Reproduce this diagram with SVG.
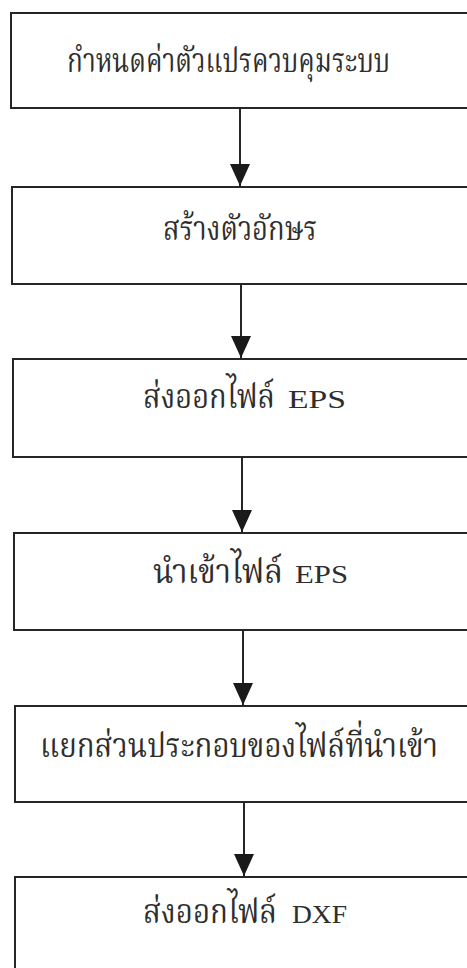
<svg xmlns="http://www.w3.org/2000/svg" width="467" height="968" viewBox="0 0 467 968">
<defs>
<style>
.box{fill:#fff;stroke:#262626;stroke-width:2}
.lbl{font-family:"Liberation Serif","Noto Serif Thai","Noto Sans Thai",serif;font-size:30px;fill:#2e2e2e}
.lat{font-family:"Liberation Serif",serif;font-size:25px;fill:#2e2e2e}
.edge{stroke:#262626;stroke-width:2;fill:none}
</style>
<marker id="ah" markerUnits="userSpaceOnUse" markerWidth="22" markerHeight="20" refX="22" refY="10" orient="auto" viewBox="0 0 22 20">
<path d="M0,0 L22,10 L0,20 Z" fill="#1a1a1a"/>
</marker>
</defs>
<rect width="467" height="968" fill="#fff"/>
<g id="connectors">
<line class="edge" x1="240" y1="108" x2="240" y2="186" marker-end="url(#ah)"/>
<line class="edge" x1="241" y1="284" x2="241" y2="358" marker-end="url(#ah)"/>
<line class="edge" x1="242" y1="457" x2="242" y2="532" marker-end="url(#ah)"/>
<line class="edge" x1="243" y1="630" x2="243" y2="705" marker-end="url(#ah)"/>
<line class="edge" x1="244" y1="802" x2="244" y2="876" marker-end="url(#ah)"/>
</g>
<g id="n1"><rect class="box" x="11" y="13" width="470" height="95"/><text class="lbl" transform="translate(67,72) scale(1,1.15)" textLength="323" lengthAdjust="spacingAndGlyphs">กำหนดค่าตัวแปรควบคุมระบบ</text></g>
<g id="n2"><rect class="box" x="12" y="187" width="470" height="97"/><text class="lbl" transform="translate(163,240) scale(1,1.15)" textLength="154" lengthAdjust="spacingAndGlyphs">สร้างตัวอักษร</text></g>
<g id="n3"><rect class="box" x="13" y="359" width="470" height="98"/><text class="lbl" transform="translate(143,408) scale(1,1.15)" textLength="132" lengthAdjust="spacingAndGlyphs">ส่งออกไฟล์</text><text class="lat" x="288" y="408" textLength="58" lengthAdjust="spacingAndGlyphs">EPS</text></g>
<g id="n4"><rect class="box" x="14" y="533" width="470" height="97"/><text class="lbl" transform="translate(153,583) scale(1,1.15)" textLength="130" lengthAdjust="spacingAndGlyphs">นำเข้าไฟล์</text><text class="lat" x="295" y="583" textLength="53" lengthAdjust="spacingAndGlyphs">EPS</text></g>
<g id="n5"><rect class="box" x="15" y="706" width="470" height="96"/><text class="lbl" transform="translate(40,757) scale(1,1.15)" textLength="398" lengthAdjust="spacingAndGlyphs">แยกส่วนประกอบของไฟล์ที่นำเข้า</text></g>
<g id="n6"><rect class="box" x="15" y="877" width="470" height="120"/><text class="lbl" transform="translate(143,923) scale(1,1.15)" textLength="134" lengthAdjust="spacingAndGlyphs">ส่งออกไฟล์</text><text class="lat" x="292" y="923" textLength="55" lengthAdjust="spacingAndGlyphs">DXF</text></g>
</svg>
